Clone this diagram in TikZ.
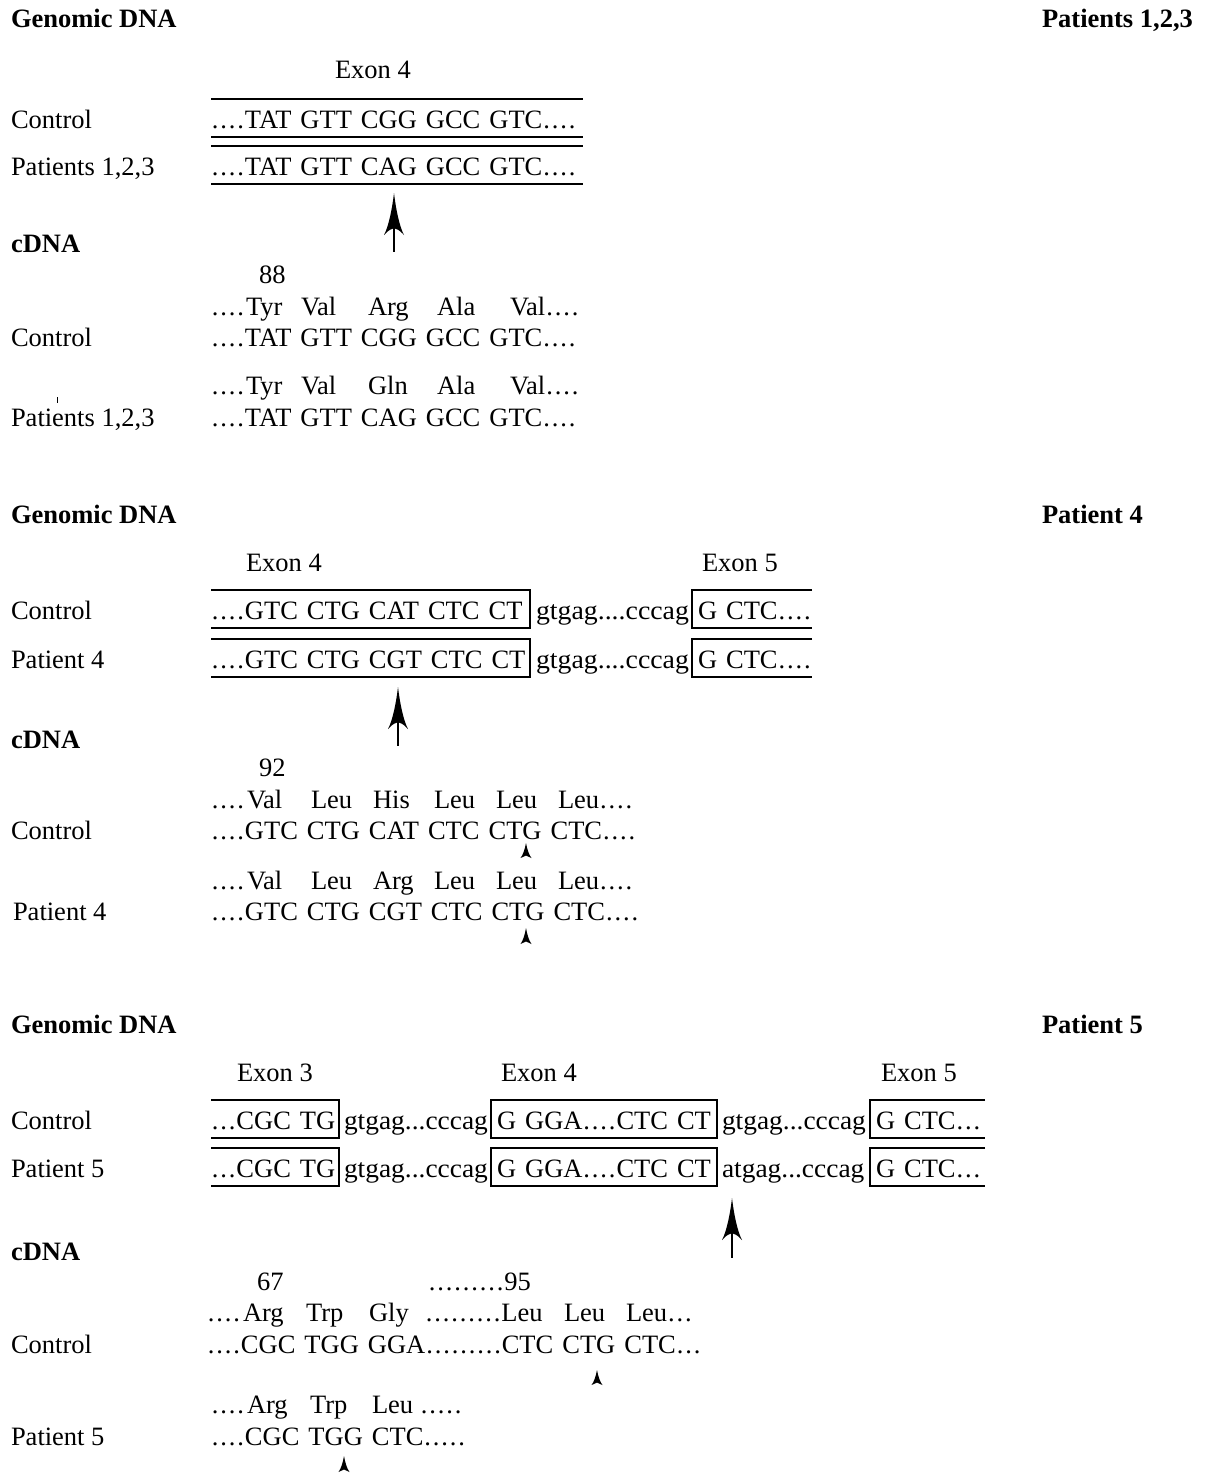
\documentclass[tikz,border=0pt]{standalone}
\usepackage{fontspec}
\setmainfont{Liberation Serif}
\newcommand{\myfs}{\fontsize{26.5}{30}\selectfont}
\newcommand{\Pd}{\makebox[8.5pt][c]{.}}
\newcommand{\Qd}{\Pd\Pd\Pd\Pd}
\newcommand{\Td}{\Pd\Pd\Pd}
\newcommand{\Fd}{\Pd\Pd\Pd\Pd\Pd}
\newcommand{\Nd}{\Pd\Pd\Pd\Pd\Pd\Pd\Pd\Pd\Pd}
\newcommand{\intr}[2]{\scalebox{#1}[1]{#2}}
\newskip\sqskip
\sqskip=9pt
\newcommand{\sq}[1]{\begingroup\myfs\spaceskip=\sqskip #1\endgroup}
\tikzset{
  txt/.style={anchor=base west, inner sep=0pt, outer sep=0pt, font=\myfs},
  dna/.style={txt},
  hd/.style={txt, font=\myfs\bfseries},
  ln/.style={line width=1.8pt},
}
% arrow head: x, tip y, length, half width
\newcommand{\arrhd}[4]{\fill ({#1},{#2}) .. controls ({#1-0.2*#4},{#2+0.4*#3}) and ({#1-0.55*#4},{#2+0.8*#3}) .. ({#1-#4},{#2+#3}) .. controls ({#1-0.5*#4},{#2+0.88*#3}) .. ({#1},{#2+0.84*#3}) .. controls ({#1+0.5*#4},{#2+0.88*#3}) .. ({#1+#4},{#2+#3}) .. controls ({#1+0.55*#4},{#2+0.8*#3}) and ({#1+0.2*#4},{#2+0.4*#3}) .. ({#1},{#2}) -- cycle;}
\newcommand{\bigarr}[3]{\arrhd{#1}{#2}{42}{10}\draw[line width=2.2pt] (#1,{#2+34}) -- (#1,#3);}
\newcommand{\seqrow}[3]{\foreach \px/\tx [count=\k] in {#3} {\node[txt] (#1\k) at (\px,#2) {\tx};}}
\begin{document}
\begin{tikzpicture}[x=1pt,y=-1pt]
\useasboundingbox (0,0) rectangle (1205,1473);
\fill[white] (0,0) rectangle (1205,1473);

% ---------------- Section 1
\node[hd] (h1) at (11,27) {Genomic DNA};
\node[hd] (p1) at (1042,27) {Patients 1,2,3};
\node[txt] (e14) at (335,78) {Exon 4};
\node[txt] (l1a) at (11,128) {Control};
\node[txt] (l1b) at (11,175) {Patients 1,2,3};
\node[dna] (ga) at (211,128) {\sq{\Qd TAT GTT CGG GCC GTC\Qd}};
\node[dna] (gb) at (211,175) {\sq{\Qd TAT GTT CAG GCC GTC\Qd}};
\draw[ln] (211,99) -- (583,99);
\draw[ln] (211,137) -- (583,137);
\draw[ln] (211,146) -- (583,146);
\draw[ln] (211,184) -- (583,184);
\bigarr{394}{193}{252}

\node[hd] (c1) at (11,252) {cDNA};
\node[txt] (n88) at (259,283) {88};
\seqrow{aa}{315}{211/\Qd, 246/Tyr, 301/Val, 368/Arg, 437/Ala, 510/Val\Qd}
\node[txt] (l1c) at (11,346) {Control};
\node[dna] (ca) at (211,346) {\sq{\Qd TAT GTT CGG GCC GTC\Qd}};
\seqrow{ab}{394}{211/\Qd, 246/Tyr, 301/Val, 368/Gln, 437/Ala, 510/Val\Qd}
\node[txt] (l1d) at (11,426) {Patients 1,2,3};
\draw[line width=1pt] (57,397) -- (57,403);
\node[dna] (cb) at (211,426) {\sq{\Qd TAT GTT CAG GCC GTC\Qd}};

% ---------------- Section 2
\node[hd] (h2) at (11,523) {Genomic DNA};
\node[hd] (p2) at (1042,523) {Patient 4};
\node[txt] (e24) at (246,571) {Exon 4};
\node[txt] (e25) at (702,571) {Exon 5};
\node[txt] (l2a) at (11,619) {Control};
\node[txt] (l2b) at (11,668) {Patient 4};
\node[dna] (gc1) at (211,619) {\sq{\Qd GTC CTG CAT CTC CT}};
\node[txt] (gc2) at (536,619) {\intr{1.05}{gtgag....cccag}};
\node[dna] (gc3) at (698,619) {\sq{G CTC\Qd}};
\node[dna] (gd1) at (211,668) {\sq{\Qd GTC CTG CGT CTC CT}};
\node[txt] (gd2) at (536,668) {\intr{1.05}{gtgag....cccag}};
\node[dna] (gd3) at (698,668) {\sq{G CTC\Qd}};
\draw[ln] (211,590) -- (530,590) -- (530,628) -- (211,628);
\draw[ln] (812,590) -- (692,590) -- (692,628) -- (812,628);
\draw[ln] (211,639) -- (530,639) -- (530,677) -- (211,677);
\draw[ln] (812,639) -- (692,639) -- (692,677) -- (812,677);
\bigarr{398}{687}{746}

\node[hd] (c2) at (11,748) {cDNA};
\node[txt] (n92) at (259,776) {92};
\seqrow{ac}{808}{211/\Qd, 247/Val, 311/Leu, 373/His, 434/Leu, 496/Leu, 558/Leu\Qd}
\node[txt] (l2c) at (11,839) {Control};
\node[dna] (cc) at (211,839) {\sq{\Qd GTC CTG CAT CTC CTG CTC\Qd}};
\arrhd{526}{843}{15}{5.5}
\seqrow{ad}{889}{211/\Qd, 247/Val, 311/Leu, 373/Arg, 434/Leu, 496/Leu, 558/Leu\Qd}
\node[txt] (l2d) at (13,920) {Patient 4};
\node[dna] (cd) at (211,920) {\sq{\Qd GTC CTG CGT CTC CTG CTC\Qd}};
\arrhd{526}{928}{16}{5.5}

% ---------------- Section 3
\node[hd] (h3) at (11,1033) {Genomic DNA};
\node[hd] (p3) at (1042,1033) {Patient 5};
\node[txt] (e33) at (237,1081) {Exon 3};
\node[txt] (e34) at (501,1081) {Exon 4};
\node[txt] (e35) at (881,1081) {Exon 5};
\node[txt] (l3a) at (11,1129) {Control};
\node[txt] (l3b) at (11,1177) {Patient 5};
\node[dna] (ge1) at (211,1129) {\sq{\Td CGC TG}};
\node[txt] (ge2) at (344,1129) {\intr{1.035}{gtgag...cccag}};
\node[dna] (ge3) at (497,1129) {\sq{G GGA\Qd CTC CT}};
\node[txt] (ge4) at (722,1129) {\intr{1.035}{gtgag...cccag}};
\node[dna] (ge5) at (876,1129) {\sq{G CTC\Td}};
\node[dna] (gf1) at (211,1177) {\sq{\Td CGC TG}};
\node[txt] (gf2) at (344,1177) {\intr{1.035}{gtgag...cccag}};
\node[dna] (gf3) at (497,1177) {\sq{G GGA\Qd CTC CT}};
\node[txt] (gf4) at (722,1177) {\intr{1.035}{atgag...cccag}};
\node[dna] (gf5) at (876,1177) {\sq{G CTC\Td}};
\draw[ln] (211,1100) -- (339,1100) -- (339,1138) -- (211,1138);
\draw[ln] (491,1100) rectangle (717,1138);
\draw[ln] (985,1100) -- (870,1100) -- (870,1138) -- (985,1138);
\draw[ln] (211,1148) -- (339,1148) -- (339,1186) -- (211,1186);
\draw[ln] (491,1148) rectangle (717,1186);
\draw[ln] (985,1148) -- (870,1148) -- (870,1186) -- (985,1186);
\bigarr{732}{1198}{1258}

\node[hd] (c3) at (11,1260) {cDNA};
\node[txt] (n67) at (257,1290) {67};
\node[txt] (n95) at (428,1290) {\Nd 95};
\seqrow{ae}{1321}{207/\Qd, 243/Arg, 306/Trp, 369/Gly, 425/\Nd Leu, 564/Leu, 626/Leu\Td}
\node[txt] (l3c) at (11,1353) {Control};
\node[dna] (ce) at (207,1353) {\sq{\Qd CGC TGG GGA\Nd CTC CTG CTC\Td}};
\arrhd{597}{1370}{15}{5.5}
\seqrow{af}{1413}{211/\Qd, 247/Arg, 310/Trp, 372/Leu \Fd}
\node[txt] (l3d) at (11,1445) {Patient 5};
\node[dna] (cf) at (211,1445) {\sq{\Qd CGC TGG CTC\Fd}};
\arrhd{344}{1456}{16}{5.5}
\end{tikzpicture}
\end{document}
